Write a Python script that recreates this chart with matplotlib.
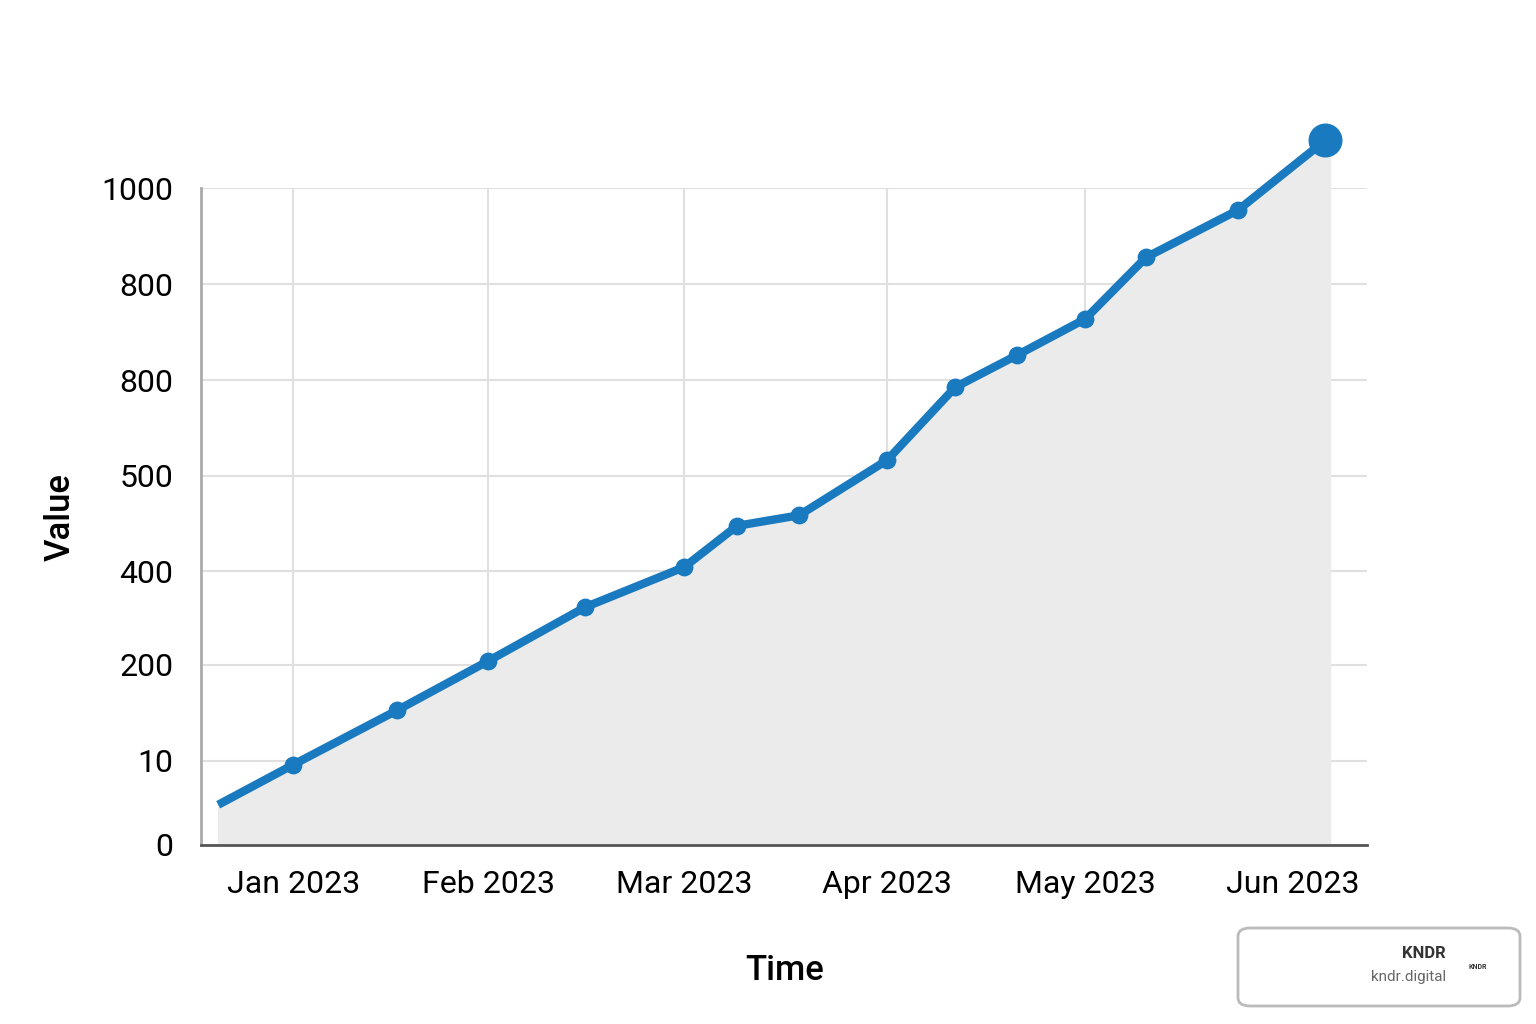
import matplotlib
matplotlib.use("Agg")
import matplotlib.pyplot as plt
from matplotlib.patches import FancyBboxPatch

x_pos = [-0.375, 0, 0.52, 0.975, 1.46, 1.955, 2.22, 2.53, 2.97, 3.31, 3.62, 3.96, 4.265, 4.725, 5.16]
values = [61, 122, 205, 280, 362, 423, 486, 502, 586, 697, 746, 801, 895, 967, 1073]
month_pos = [0, 0.975, 1.955, 2.97, 3.96, 5.0]
month_labels = ["Jan 2023", "Feb 2023", "Mar 2023", "Apr 2023", "May 2023", "Jun 2023"]
ytick_pos = [0, 128, 274, 417, 562, 708, 854, 1000]
ytick_labels = ["0", "10", "200", "400", "500", "800", "800", "1000"]

plt.rcParams['font.family'] = ['Roboto', 'DejaVu Sans']
fig = plt.figure(figsize=(15.36, 10.24), dpi=100)
ax = fig.add_axes([0.131, 0.175, 0.759, 0.641])
ax.set_xlim(-0.46, 5.37)
ax.set_ylim(0, 1000)

fx = x_pos + [5.185]
fy = values + [values[-1]]
ax.fill_between(fx, fy, 0, color="#ebebeb", clip_on=False, zorder=1)
ax.plot(x_pos, values, color="#1a7abf", lw=6, clip_on=False, zorder=3, solid_capstyle="butt")
ax.scatter(x_pos[1:-1], values[1:-1], s=140, color="#1a7abf", zorder=4, clip_on=False)
ax.scatter([x_pos[-1]], [values[-1]], s=550, color="#1a7abf", zorder=4, clip_on=False)

ax.set_xticks(month_pos)
ax.set_xticklabels(month_labels, fontsize=23)
ax.set_yticks(ytick_pos)
ax.set_yticklabels(ytick_labels, fontsize=23)
ax.tick_params(axis="x", length=0, pad=18)
ax.tick_params(axis="y", length=0, pad=20)
ax.grid(True, color="#e0e0e0", lw=1.5, zorder=0)
ax.set_axisbelow(True)
for s in ["top", "right"]:
    ax.spines[s].set_visible(False)
ax.spines["left"].set_color("#aaaaaa")
ax.spines["left"].set_linewidth(2)
ax.spines["bottom"].set_color("#555555")
ax.spines["bottom"].set_linewidth(2)
ax.set_xlabel("Time", fontsize=25, labelpad=40, fontweight="medium")
ax.set_ylabel("Value", fontsize=25, labelpad=18, fontweight="medium")

box = FancyBboxPatch((1238/1536, 1-1006/1024), 282/1536, 78/1024,
                     boxstyle="round,pad=0,rounding_size=0.008", transform=fig.transFigure,
                     fc="white", ec="#bbbbbb", lw=2)
fig.patches.append(box)
fig.text(1446/1536, 1-953/1024, "KNDR", ha="right", va="center", fontsize=12, fontweight="bold", color="#333333")
fig.text(1446/1536, 1-977/1024, "kndr.digital", ha="right", va="center", fontsize=11, color="#666666")
fig.text(1478/1536, 1-967/1024, "KNDR", ha="center", va="center", fontsize=5, fontweight="bold", color="#333333")

fig.savefig("out.png", dpi=100, facecolor="white")
